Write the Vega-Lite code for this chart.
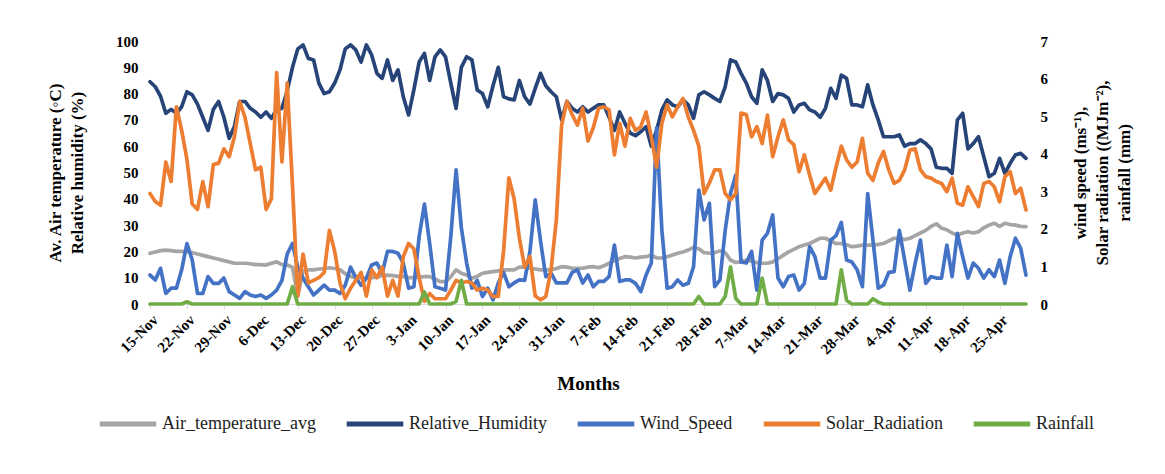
{
"$schema":"https://vega.github.io/schema/vega-lite/v6.json",
"width":876,"height":263,
"autosize":{"type":"none"},
"padding":{"left":150,"top":41,"right":139,"bottom":170},
"background":"white",
"config":{
 "view":{"stroke":null},
 "font":"Liberation Serif",
 "axis":{"labelFont":"Liberation Serif","titleFont":"Liberation Serif","labelFontWeight":"bold","titleFontWeight":"bold","labelColor":"#000","titleColor":"#000","grid":false},
 "legend":{"orient":"none","legendX":-53,"legendY":352,"direction":"horizontal","symbolType":"stroke","symbolStrokeWidth":5,"symbolSize":3200,"labelFontSize":18,"labelFont":"Liberation Serif","labelColor":"#222","columnPadding":20,"labelOffset":3}
},
"data":{"values":[
{"d":"2018-11-15","t":19.3,"h":84.5,"w":0.77,"s":2.94,"r":0},
{"d":"2018-11-16","t":19.8,"h":82.6,"w":0.64,"s":2.73,"r":0},
{"d":"2018-11-17","t":20.3,"h":79,"w":0.95,"s":2.63,"r":0},
{"d":"2018-11-18","t":20.5,"h":72.5,"w":0.28,"s":3.78,"r":0},
{"d":"2018-11-19","t":20.3,"h":74,"w":0.42,"s":3.26,"r":0},
{"d":"2018-11-20","t":20,"h":72.5,"w":0.42,"s":5.25,"r":0},
{"d":"2018-11-21","t":20,"h":75,"w":0.91,"s":4.62,"r":0},
{"d":"2018-11-22","t":20,"h":80.7,"w":1.61,"s":3.85,"r":0.06},
{"d":"2018-11-23","t":19.5,"h":79.5,"w":1.17,"s":2.66,"r":0},
{"d":"2018-11-24","t":19,"h":76,"w":0.28,"s":2.52,"r":0},
{"d":"2018-11-25","t":18.5,"h":71,"w":0.28,"s":3.26,"r":0},
{"d":"2018-11-26","t":18,"h":66,"w":0.73,"s":2.59,"r":0},
{"d":"2018-11-27","t":17.5,"h":74,"w":0.55,"s":3.71,"r":0},
{"d":"2018-11-28","t":17,"h":77,"w":0.55,"s":3.75,"r":0},
{"d":"2018-11-29","t":16.5,"h":71,"w":0.69,"s":4.13,"r":0},
{"d":"2018-11-30","t":16,"h":63,"w":0.33,"s":3.92,"r":0},
{"d":"2018-12-01","t":15.5,"h":67.5,"w":0.24,"s":4.45,"r":0},
{"d":"2018-12-02","t":15.5,"h":77,"w":0.15,"s":5.39,"r":0},
{"d":"2018-12-03","t":15.5,"h":77,"w":0.33,"s":4.97,"r":0},
{"d":"2018-12-04","t":15.3,"h":74.4,"w":0.24,"s":4.27,"r":0},
{"d":"2018-12-05","t":15,"h":73,"w":0.2,"s":3.57,"r":0},
{"d":"2018-12-06","t":15,"h":71,"w":0.24,"s":3.64,"r":0},
{"d":"2018-12-07","t":14.8,"h":73,"w":0.15,"s":2.52,"r":0},
{"d":"2018-12-08","t":15.5,"h":70.6,"w":0.24,"s":2.8,"r":0},
{"d":"2018-12-09","t":16,"h":74,"w":0.37,"s":6.16,"r":0},
{"d":"2018-12-10","t":15,"h":74.4,"w":0.63,"s":3.78,"r":0},
{"d":"2018-12-11","t":14.8,"h":81,"w":1.33,"s":5.88,"r":0},
{"d":"2018-12-12","t":14,"h":90,"w":1.61,"s":3.15,"r":0.46},
{"d":"2018-12-13","t":3,"h":97,"w":0.98,"s":0.21,"r":0},
{"d":"2018-12-14","t":12.5,"h":98.5,"w":0.69,"s":1.33,"r":0},
{"d":"2018-12-15","t":13,"h":93.4,"w":0.46,"s":0.56,"r":0},
{"d":"2018-12-16","t":13,"h":92.8,"w":0.24,"s":0.63,"r":0},
{"d":"2018-12-17","t":13.3,"h":84,"w":0.37,"s":0.7,"r":0},
{"d":"2018-12-18","t":13.5,"h":80,"w":0.5,"s":0.84,"r":0},
{"d":"2018-12-19","t":13.8,"h":80.7,"w":0.37,"s":1.96,"r":0},
{"d":"2018-12-20","t":13.5,"h":84,"w":0.37,"s":1.4,"r":0},
{"d":"2018-12-21","t":13,"h":89,"w":0.28,"s":0.56,"r":0},
{"d":"2018-12-22","t":11.5,"h":97,"w":0.5,"s":0.14,"r":0},
{"d":"2018-12-23","t":10.5,"h":98.5,"w":0.98,"s":0.42,"r":0},
{"d":"2018-12-24","t":10,"h":96.6,"w":0.7,"s":0.63,"r":0},
{"d":"2018-12-25","t":10,"h":92,"w":0.5,"s":0.84,"r":0},
{"d":"2018-12-26","t":9.8,"h":98.5,"w":0.69,"s":0.21,"r":0},
{"d":"2018-12-27","t":10,"h":94.7,"w":1.04,"s":0.91,"r":0},
{"d":"2018-12-28","t":10.2,"h":87.7,"w":1.09,"s":0.7,"r":0},
{"d":"2018-12-29","t":10.8,"h":85.8,"w":0.82,"s":0.98,"r":0},
{"d":"2018-12-30","t":11,"h":92.8,"w":1.4,"s":0.21,"r":0},
{"d":"2018-12-31","t":10.8,"h":85,"w":1.4,"s":0.63,"r":0},
{"d":"2019-01-01","t":10.5,"h":89,"w":1.35,"s":0.21,"r":0},
{"d":"2019-01-02","t":10.4,"h":78.8,"w":1.09,"s":1.26,"r":0},
{"d":"2019-01-03","t":10,"h":71.9,"w":0.42,"s":1.61,"r":0},
{"d":"2019-01-04","t":10,"h":81.4,"w":0.46,"s":1.47,"r":0},
{"d":"2019-01-05","t":10.2,"h":92,"w":1.79,"s":0.7,"r":0},
{"d":"2019-01-06","t":10.4,"h":95.3,"w":2.66,"s":0.07,"r":0.32},
{"d":"2019-01-07","t":10.4,"h":85,"w":1.61,"s":0.28,"r":0},
{"d":"2019-01-08","t":9.5,"h":94,"w":0.46,"s":0.14,"r":0},
{"d":"2019-01-09","t":8.5,"h":96.6,"w":0.42,"s":0.14,"r":0},
{"d":"2019-01-10","t":8.5,"h":94,"w":0.37,"s":0.14,"r":0},
{"d":"2019-01-11","t":10.4,"h":84,"w":1.79,"s":0.37,"r":0},
{"d":"2019-01-12","t":13,"h":74.4,"w":3.57,"s":0.63,"r":0.07},
{"d":"2019-01-13","t":11.7,"h":90,"w":2.03,"s":0.56,"r":0.63},
{"d":"2019-01-14","t":11,"h":94,"w":1.09,"s":0.6,"r":0},
{"d":"2019-01-15","t":9.8,"h":92.8,"w":0.42,"s":0.56,"r":0},
{"d":"2019-01-16","t":10.5,"h":81.4,"w":0.63,"s":0.37,"r":0},
{"d":"2019-01-17","t":11.7,"h":80,"w":0.2,"s":0.42,"r":0},
{"d":"2019-01-18","t":12,"h":75,"w":0.42,"s":0.37,"r":0},
{"d":"2019-01-19","t":12.3,"h":83,"w":0.11,"s":0.2,"r":0},
{"d":"2019-01-20","t":12.6,"h":90,"w":0.56,"s":0.2,"r":0},
{"d":"2019-01-21","t":13,"h":78.8,"w":0.84,"s":1.4,"r":0},
{"d":"2019-01-22","t":13,"h":78,"w":0.46,"s":3.36,"r":0},
{"d":"2019-01-23","t":13,"h":77.6,"w":0.56,"s":2.8,"r":0},
{"d":"2019-01-24","t":14,"h":85,"w":0.64,"s":1.75,"r":0},
{"d":"2019-01-25","t":14,"h":78.8,"w":0.63,"s":0.98,"r":0},
{"d":"2019-01-26","t":13.6,"h":76,"w":1.4,"s":1.26,"r":0},
{"d":"2019-01-27","t":13.3,"h":82,"w":2.77,"s":0.21,"r":0},
{"d":"2019-01-28","t":13,"h":87.7,"w":1.68,"s":0.11,"r":0},
{"d":"2019-01-29","t":13,"h":83,"w":0.73,"s":0.2,"r":0},
{"d":"2019-01-30","t":13,"h":80.7,"w":0.82,"s":0.91,"r":0},
{"d":"2019-01-31","t":13.5,"h":78.8,"w":0.56,"s":2.24,"r":0},
{"d":"2019-02-01","t":14.2,"h":70,"w":0.56,"s":4.76,"r":0},
{"d":"2019-02-02","t":14,"h":77,"w":0.56,"s":5.39,"r":0},
{"d":"2019-02-03","t":13.6,"h":74.4,"w":0.84,"s":5.04,"r":0},
{"d":"2019-02-04","t":13.6,"h":73,"w":0.91,"s":4.76,"r":0},
{"d":"2019-02-05","t":13.6,"h":75,"w":0.56,"s":5.21,"r":0},
{"d":"2019-02-06","t":14,"h":73,"w":0.77,"s":4.34,"r":0},
{"d":"2019-02-07","t":14.2,"h":74.4,"w":0.46,"s":4.69,"r":0},
{"d":"2019-02-08","t":13.8,"h":75.7,"w":0.6,"s":5.21,"r":0},
{"d":"2019-02-09","t":14.5,"h":75.7,"w":0.6,"s":5.25,"r":0},
{"d":"2019-02-10","t":15.5,"h":71,"w":0.73,"s":5.17,"r":0},
{"d":"2019-02-11","t":16.5,"h":66,"w":1.57,"s":3.97,"r":0},
{"d":"2019-02-12","t":17.3,"h":73,"w":0.6,"s":4.81,"r":0},
{"d":"2019-02-13","t":18,"h":68.7,"w":0.64,"s":4.2,"r":0},
{"d":"2019-02-14","t":17.8,"h":65,"w":0.64,"s":4.94,"r":0},
{"d":"2019-02-15","t":17.5,"h":64,"w":0.55,"s":4.62,"r":0},
{"d":"2019-02-16","t":17.8,"h":65.5,"w":0.33,"s":4.72,"r":0},
{"d":"2019-02-17","t":18,"h":67.4,"w":0.77,"s":5.11,"r":0},
{"d":"2019-02-18","t":18.6,"h":60,"w":1.09,"s":4.45,"r":0},
{"d":"2019-02-19","t":17.5,"h":66,"w":4.69,"s":3.64,"r":0},
{"d":"2019-02-20","t":17.5,"h":73.8,"w":1.96,"s":4.81,"r":0},
{"d":"2019-02-21","t":18,"h":77.6,"w":0.42,"s":5.3,"r":0},
{"d":"2019-02-22","t":18.6,"h":75.7,"w":0.46,"s":4.98,"r":0},
{"d":"2019-02-23","t":19.3,"h":75,"w":0.64,"s":5.25,"r":0},
{"d":"2019-02-24","t":19.8,"h":77.6,"w":0.5,"s":5.47,"r":0},
{"d":"2019-02-25","t":20.5,"h":75.7,"w":0.55,"s":4.98,"r":0},
{"d":"2019-02-26","t":21.5,"h":70.6,"w":0.99,"s":4.62,"r":0},
{"d":"2019-02-27","t":21,"h":79.5,"w":3.03,"s":4.2,"r":0.2},
{"d":"2019-02-28","t":19.5,"h":80.7,"w":2.24,"s":2.94,"r":0},
{"d":"2019-03-01","t":19.3,"h":79.5,"w":2.68,"s":3.22,"r":0},
{"d":"2019-03-02","t":19.5,"h":78.2,"w":0.46,"s":3.57,"r":0},
{"d":"2019-03-03","t":20.2,"h":77,"w":0.64,"s":3.57,"r":0},
{"d":"2019-03-04","t":19.5,"h":82.6,"w":1.96,"s":2.94,"r":0.2},
{"d":"2019-03-05","t":16.7,"h":92.8,"w":2.94,"s":2.77,"r":0.99},
{"d":"2019-03-06","t":15.8,"h":92,"w":3.43,"s":2.94,"r":0.15},
{"d":"2019-03-07","t":16,"h":87.7,"w":1.12,"s":5.08,"r":0},
{"d":"2019-03-08","t":16.7,"h":84,"w":1.09,"s":5.04,"r":0},
{"d":"2019-03-09","t":16.3,"h":78.8,"w":1.4,"s":4.45,"r":0},
{"d":"2019-03-10","t":15.7,"h":76.3,"w":0.37,"s":4.72,"r":0},
{"d":"2019-03-11","t":15.5,"h":89,"w":1.7,"s":4.27,"r":0.69},
{"d":"2019-03-12","t":15.5,"h":85,"w":1.88,"s":5.03,"r":0},
{"d":"2019-03-13","t":16,"h":77,"w":2.37,"s":3.92,"r":0},
{"d":"2019-03-14","t":17.2,"h":80,"w":0.69,"s":4.45,"r":0},
{"d":"2019-03-15","t":18.5,"h":79.5,"w":0.46,"s":4.9,"r":0},
{"d":"2019-03-16","t":19.8,"h":78.2,"w":0.73,"s":4.37,"r":0},
{"d":"2019-03-17","t":20.8,"h":73,"w":0.77,"s":4.24,"r":0},
{"d":"2019-03-18","t":21.8,"h":75.7,"w":0.37,"s":3.52,"r":0},
{"d":"2019-03-19","t":22.4,"h":76.3,"w":0.55,"s":3.97,"r":0},
{"d":"2019-03-20","t":23,"h":73.8,"w":1.53,"s":3.43,"r":0},
{"d":"2019-03-21","t":24,"h":73,"w":1.26,"s":2.94,"r":0},
{"d":"2019-03-22","t":25,"h":71,"w":0.69,"s":3.15,"r":0},
{"d":"2019-03-23","t":25,"h":74.4,"w":0.69,"s":3.35,"r":0},
{"d":"2019-03-24","t":24,"h":82,"w":1.7,"s":3.03,"r":0},
{"d":"2019-03-25","t":23,"h":78.2,"w":1.82,"s":3.64,"r":0},
{"d":"2019-03-26","t":23,"h":87,"w":2.17,"s":4.2,"r":0.91},
{"d":"2019-03-27","t":22.5,"h":85.8,"w":1.17,"s":3.84,"r":0.1},
{"d":"2019-03-28","t":21.8,"h":75.7,"w":1.12,"s":3.64,"r":0},
{"d":"2019-03-29","t":22,"h":75.7,"w":0.91,"s":3.78,"r":0},
{"d":"2019-03-30","t":22.4,"h":75,"w":0.46,"s":4.41,"r":0},
{"d":"2019-03-31","t":22.4,"h":83.3,"w":2.94,"s":3.48,"r":0},
{"d":"2019-04-01","t":22.4,"h":75.7,"w":1.7,"s":3.29,"r":0.14},
{"d":"2019-04-02","t":22.7,"h":70,"w":0.42,"s":3.75,"r":0.05},
{"d":"2019-04-03","t":23,"h":63.6,"w":0.5,"s":4.06,"r":0},
{"d":"2019-04-04","t":24,"h":63.6,"w":0.84,"s":3.57,"r":0},
{"d":"2019-04-05","t":25,"h":63.6,"w":0.86,"s":3.21,"r":0},
{"d":"2019-04-06","t":25,"h":64.3,"w":1.96,"s":3.29,"r":0},
{"d":"2019-04-07","t":24.5,"h":60,"w":1.17,"s":3.57,"r":0},
{"d":"2019-04-08","t":25,"h":61,"w":0.37,"s":4.1,"r":0},
{"d":"2019-04-09","t":26,"h":61,"w":1.09,"s":4.13,"r":0},
{"d":"2019-04-10","t":27,"h":62.4,"w":1.7,"s":3.57,"r":0},
{"d":"2019-04-11","t":28,"h":61,"w":0.55,"s":3.39,"r":0},
{"d":"2019-04-12","t":29.5,"h":59,"w":0.73,"s":3.35,"r":0},
{"d":"2019-04-13","t":30.5,"h":52,"w":0.69,"s":3.26,"r":0},
{"d":"2019-04-14","t":28.8,"h":51.6,"w":0.69,"s":3.21,"r":0},
{"d":"2019-04-15","t":28.2,"h":51.6,"w":1.57,"s":2.99,"r":0},
{"d":"2019-04-16","t":27,"h":49.7,"w":0.73,"s":3.35,"r":0},
{"d":"2019-04-17","t":26.2,"h":70,"w":1.88,"s":2.68,"r":0},
{"d":"2019-04-18","t":27,"h":72.5,"w":1.26,"s":2.63,"r":0},
{"d":"2019-04-19","t":27.5,"h":59,"w":0.69,"s":3.12,"r":0},
{"d":"2019-04-20","t":27,"h":61,"w":1.09,"s":2.86,"r":0},
{"d":"2019-04-21","t":27.5,"h":63.6,"w":0.95,"s":2.59,"r":0},
{"d":"2019-04-22","t":29,"h":56,"w":0.69,"s":3.21,"r":0},
{"d":"2019-04-23","t":30,"h":48.4,"w":0.91,"s":3.26,"r":0},
{"d":"2019-04-24","t":30.7,"h":49.7,"w":0.73,"s":3.12,"r":0},
{"d":"2019-04-25","t":29.5,"h":55.4,"w":1.17,"s":2.72,"r":0},
{"d":"2019-04-26","t":30.7,"h":49.7,"w":0.55,"s":3.39,"r":0},
{"d":"2019-04-27","t":30.2,"h":53.5,"w":1.26,"s":3.52,"r":0},
{"d":"2019-04-28","t":30,"h":56.7,"w":1.75,"s":2.94,"r":0},
{"d":"2019-04-29","t":29.5,"h":57.3,"w":1.48,"s":3.08,"r":0},
{"d":"2019-04-30","t":29.4,"h":55.4,"w":0.77,"s":2.5,"r":0}
]},
"encoding":{
 "x":{"field":"d","type":"temporal","scale":{"domain":[{"year":2018,"month":11,"date":15,"utc":true},{"year":2019,"month":4,"date":30,"utc":true}]},
  "axis":{"values":[
   {"year":2018,"month":11,"date":15,"utc":true},{"year":2018,"month":11,"date":22,"utc":true},{"year":2018,"month":11,"date":29,"utc":true},
   {"year":2018,"month":12,"date":6,"utc":true},{"year":2018,"month":12,"date":13,"utc":true},{"year":2018,"month":12,"date":20,"utc":true},{"year":2018,"month":12,"date":27,"utc":true},
   {"year":2019,"month":1,"date":3,"utc":true},{"year":2019,"month":1,"date":10,"utc":true},{"year":2019,"month":1,"date":17,"utc":true},{"year":2019,"month":1,"date":24,"utc":true},{"year":2019,"month":1,"date":31,"utc":true},
   {"year":2019,"month":2,"date":7,"utc":true},{"year":2019,"month":2,"date":14,"utc":true},{"year":2019,"month":2,"date":21,"utc":true},{"year":2019,"month":2,"date":28,"utc":true},
   {"year":2019,"month":3,"date":7,"utc":true},{"year":2019,"month":3,"date":14,"utc":true},{"year":2019,"month":3,"date":21,"utc":true},{"year":2019,"month":3,"date":28,"utc":true},
   {"year":2019,"month":4,"date":4,"utc":true},{"year":2019,"month":4,"date":11,"utc":true},{"year":2019,"month":4,"date":18,"utc":true},{"year":2019,"month":4,"date":25,"utc":true}],
   "labelExpr":"utcFormat(datum.value, '%-d-%b')","labelOverlap":false,"labelAngle":-45,"labelFontSize":15,"labelPadding":3,"domainColor":"#d9d9d9","tickColor":"#d9d9d9","tickSize":5,"title":"Months","titleFontSize":19,"titlePadding":18}}
},
"layer":[
 {"transform":[{"fold":["t","h"],"as":["k","v"]}],
  "mark":{"type":"line","strokeWidth":3.7,"strokeCap":"round","strokeJoin":"round"},
  "encoding":{
   "y":{"field":"v","type":"quantitative","scale":{"domain":[0,100]},
     "axis":{"orient":"left","values":[0,10,20,30,40,50,60,70,80,90,100],"domain":false,"ticks":false,"labelFontSize":15,"labelPadding":12,"title":["Av. Air temperature (◦C)","Relative humidity (%)"],"titleFontSize":17,"titleLineHeight":22,"titlePadding":29}},
   "color":{"field":"k","type":"nominal","title":null,"scale":{"domain":["t","h","w","s","r"],"range":["#a5a5a5","#264478","#4472c4","#ed7d31","#70ad47"]},
     "legend":{"labelExpr":"{'t':'Air_temperature_avg','h':'Relative_Humidity','w':'Wind_Speed','s':'Solar_Radiation','r':'Rainfall'}[datum.label]","labelFont":"Liberation Serif"}}
  }},
 {"transform":[{"fold":["w","s","r"],"as":["k","v"]}],
  "mark":{"type":"line","strokeWidth":3.7,"strokeCap":"round","strokeJoin":"round"},
  "encoding":{
   "y":{"field":"v","type":"quantitative","scale":{"domain":[0,7]},
     "axis":{"orient":"right","values":[0,1,2,3,4,5,6,7],"domain":false,"ticks":false,"labelFontSize":15,"labelPadding":14,"title":["wind speed (ms⁻¹),","Solar radiation ((MJm⁻²),","rainfall (mm)"],"titleFontSize":17,"titleLineHeight":22,"titleAngle":-90,"titlePadding":-2}},
   "color":{"field":"k","type":"nominal","title":null,"scale":{"domain":["t","h","w","s","r"],"range":["#a5a5a5","#264478","#4472c4","#ed7d31","#70ad47"]},
     "legend":{"labelExpr":"{'t':'Air_temperature_avg','h':'Relative_Humidity','w':'Wind_Speed','s':'Solar_Radiation','r':'Rainfall'}[datum.label]","labelFont":"Liberation Serif"}}
  }}
],
"resolve":{"scale":{"y":"independent"}}
}
